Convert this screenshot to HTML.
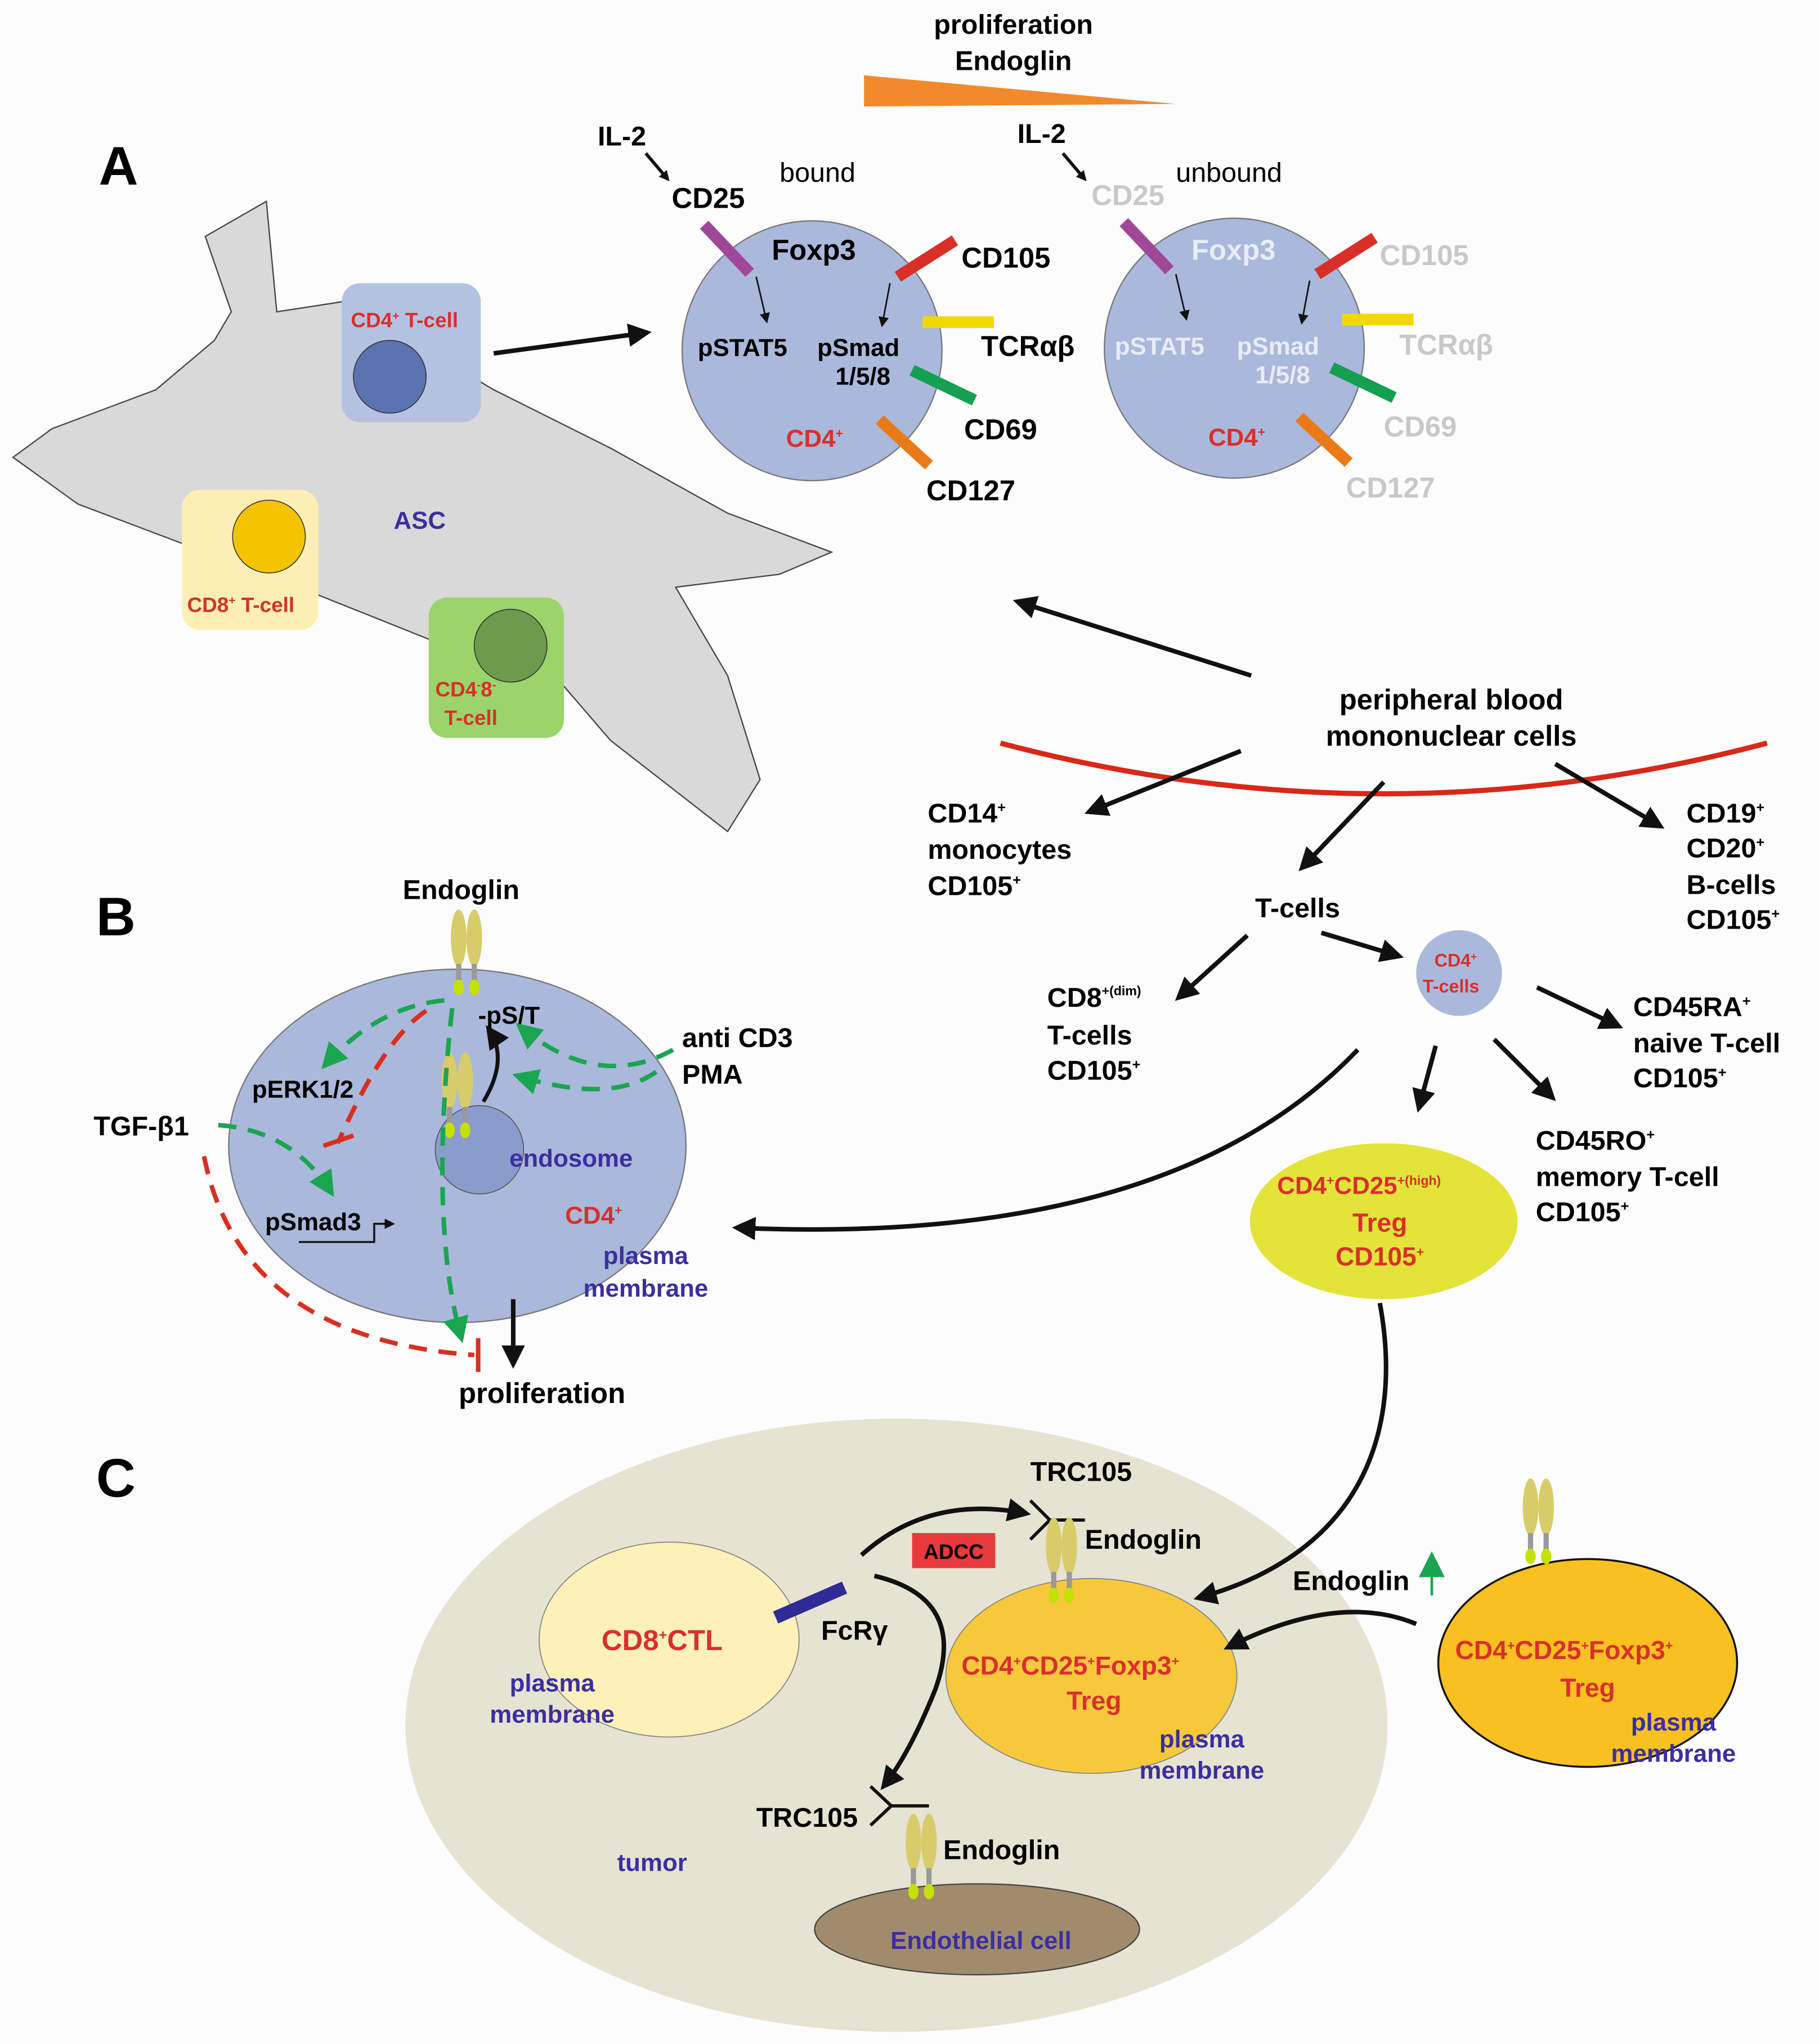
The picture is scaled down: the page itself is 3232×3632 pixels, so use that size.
<!DOCTYPE html>
<html><head><meta charset="utf-8"><style>
html,body{margin:0;padding:0;background:#fcfcfc}
svg{display:block}
text{font-family:"Liberation Sans",sans-serif;font-weight:bold}
</style></head><body>
<svg width="3232" height="3632" viewBox="0 0 1400 1573.3" xmlns="http://www.w3.org/2000/svg">
<defs>
<marker id="ab" markerWidth="8" markerHeight="8" refX="6" refY="4" orient="auto" markerUnits="userSpaceOnUse" viewBox="0 0 8 8"><path d="M0,0 L8,4 L0,8 Z" fill="#111"/></marker>
<marker id="abig" viewBox="0 0 10 10" refX="8" refY="5" markerWidth="18" markerHeight="18" orient="auto" markerUnits="userSpaceOnUse"><path d="M0,0 L10,5 L0,10 Z" fill="#111"/></marker>
<marker id="ag" viewBox="0 0 10 10" refX="8" refY="5" markerWidth="20" markerHeight="20" orient="auto" markerUnits="userSpaceOnUse"><path d="M0,0 L10,5 L0,10 Z" fill="#1aa550"/></marker>
<g id="endo"><ellipse cx="-6" cy="0" rx="6" ry="22" fill="#d8cc6a"/><ellipse cx="6" cy="0" rx="6" ry="22" fill="#d8cc6a"/><rect x="-8" y="20" width="4" height="16" fill="#999"/><rect x="4" y="20" width="4" height="16" fill="#999"/><ellipse cx="-6" cy="38" rx="4" ry="6" fill="#c6e000"/><ellipse cx="6" cy="38" rx="4" ry="6" fill="#c6e000"/></g>
</defs>
<rect width="1400" height="1573.3" fill="#fcfcfc"/>

<!-- Panel A -->
<text x="76" y="142" font-size="42">A</text>
<text x="780" y="26" font-size="21" text-anchor="middle">proliferation</text>
<text x="780" y="54" font-size="21" text-anchor="middle">Endoglin</text>
<polygon points="665,58 665,82 905,80" fill="#f28a2c"/>

<polygon points="158,182 205,155 213,240 265,232 380,300 470,345 560,395 640,425 600,442 520,452 560,520 585,600 560,640 470,570 420,512 330,492 230,452 150,422 60,388 10,352 40,330 120,300 165,262 178,240" fill="#d9d9d9" stroke="#444" stroke-width="1"/>
<rect x="263" y="218" width="107" height="107" rx="14" fill="#b4c2e2"/>
<circle cx="300" cy="290" r="28" fill="#5a72b0" stroke="#333" stroke-width="0.7"/>
<text x="270" y="252" font-size="16" fill="#d8302a">CD4<tspan font-size="9" dy="-6">+</tspan><tspan dy="6"> T-cell</tspan></text>
<rect x="140" y="377" width="105" height="108" rx="14" fill="#fdefb4"/>
<circle cx="207" cy="413" r="28" fill="#f5c400" stroke="#333" stroke-width="0.7"/>
<text x="144" y="471" font-size="16" fill="#d8302a">CD8<tspan font-size="9" dy="-6">+</tspan><tspan dy="6"> T-cell</tspan></text>
<rect x="330" y="460" width="104" height="108" rx="14" fill="#9ad46a"/>
<circle cx="393" cy="497" r="28" fill="#6e9a4e" stroke="#333" stroke-width="0.7"/>
<text x="335" y="536" font-size="16" fill="#d8302a">CD4<tspan font-size="9" dy="-6">-</tspan><tspan dy="6">8</tspan><tspan font-size="9" dy="-6">-</tspan></text>
<text x="342" y="558" font-size="16" fill="#d8302a">T-cell</text>
<text x="303" y="407" font-size="19" fill="#3b2fa0">ASC</text>
<line x1="380" y1="272" x2="498" y2="256" stroke="#111" stroke-width="3.5" marker-end="url(#abig)"/>

<!-- bound cell -->
<circle cx="625" cy="270" r="100" fill="#aab8dc" stroke="#777" stroke-width="1"/>
<text x="460" y="112" font-size="21">IL-2</text>
<line x1="497" y1="118" x2="514" y2="138" stroke="#111" stroke-width="2.5" marker-end="url(#ab)"/>
<text x="517" y="160" font-size="22">CD25</text>
<text x="600" y="140" font-size="21" style="font-weight:normal">bound</text>
<line x1="542" y1="173" x2="577" y2="210" stroke="#a04898" stroke-width="9"/>
<text x="594" y="200" font-size="22">Foxp3</text>
<line x1="691" y1="213" x2="735" y2="185" stroke="#d83028" stroke-width="9"/>
<text x="740" y="206" font-size="22">CD105</text>
<line x1="710" y1="248" x2="765" y2="248" stroke="#f3d800" stroke-width="9"/>
<text x="755" y="274" font-size="22">TCRαβ</text>
<line x1="702" y1="285" x2="750" y2="308" stroke="#14a050" stroke-width="9"/>
<text x="742" y="338" font-size="22">CD69</text>
<line x1="677" y1="323" x2="715" y2="358" stroke="#ea7a18" stroke-width="9"/>
<text x="713" y="385" font-size="22">CD127</text>
<line x1="582" y1="213" x2="590" y2="247" stroke="#111" stroke-width="1.2" marker-end="url(#ab)"/>
<line x1="685" y1="218" x2="679" y2="250" stroke="#111" stroke-width="1.2" marker-end="url(#ab)"/>
<text x="537" y="274" font-size="19">pSTAT5</text>
<text x="629" y="274" font-size="19">pSmad</text>
<text x="643" y="296" font-size="19">1/5/8</text>
<text x="605" y="344" font-size="19" fill="#d8302a">CD4<tspan font-size="10" dy="-7">+</tspan></text>

<!-- unbound cell -->
<circle cx="950" cy="268" r="100" fill="#aab8dc" stroke="#777" stroke-width="1"/>
<text x="783" y="110" font-size="21">IL-2</text>
<line x1="818" y1="118" x2="835" y2="138" stroke="#111" stroke-width="2.5" marker-end="url(#ab)"/>
<text x="840" y="158" font-size="22" fill="#c8c8c8">CD25</text>
<text x="905" y="140" font-size="21" style="font-weight:normal">unbound</text>
<line x1="865" y1="171" x2="900" y2="208" stroke="#a04898" stroke-width="9"/>
<text x="917" y="200" font-size="22" fill="#e8ecf6">Foxp3</text>
<line x1="1014" y1="211" x2="1058" y2="183" stroke="#d83028" stroke-width="9"/>
<text x="1062" y="204" font-size="22" fill="#c8c8c8">CD105</text>
<line x1="1033" y1="246" x2="1088" y2="246" stroke="#f3d800" stroke-width="9"/>
<text x="1077" y="273" font-size="22" fill="#c8c8c8">TCRαβ</text>
<line x1="1025" y1="283" x2="1073" y2="306" stroke="#14a050" stroke-width="9"/>
<text x="1065" y="336" font-size="22" fill="#c8c8c8">CD69</text>
<line x1="1000" y1="321" x2="1038" y2="356" stroke="#ea7a18" stroke-width="9"/>
<text x="1036" y="383" font-size="22" fill="#c8c8c8">CD127</text>
<line x1="905" y1="211" x2="913" y2="245" stroke="#111" stroke-width="1.2" marker-end="url(#ab)"/>
<line x1="1008" y1="216" x2="1002" y2="248" stroke="#111" stroke-width="1.2" marker-end="url(#ab)"/>
<text x="858" y="273" font-size="19" fill="#e8ecf6">pSTAT5</text>
<text x="952" y="273" font-size="19" fill="#e8ecf6">pSmad</text>
<text x="966" y="295" font-size="19" fill="#e8ecf6">1/5/8</text>
<text x="930" y="343" font-size="19" fill="#d8302a">CD4<tspan font-size="10" dy="-7">+</tspan></text>

<!-- PBMC -->
<line x1="963" y1="520" x2="783" y2="463" stroke="#111" stroke-width="3.5" marker-end="url(#abig)"/>
<text x="1117" y="546" font-size="22" text-anchor="middle">peripheral blood</text>
<text x="1117" y="574" font-size="22" text-anchor="middle">mononuclear cells</text>
<path d="M770,572 Q1065,650 1360,572" fill="none" stroke="#d82818" stroke-width="4"/>
<line x1="955" y1="578" x2="838" y2="625" stroke="#111" stroke-width="3.5" marker-end="url(#abig)"/>
<line x1="1065" y1="602" x2="1002" y2="668" stroke="#111" stroke-width="3.5" marker-end="url(#abig)"/>
<line x1="1197" y1="588" x2="1278" y2="636" stroke="#111" stroke-width="3.5" marker-end="url(#abig)"/>
<text x="714" y="633" font-size="21">CD14<tspan font-size="11" dy="-8">+</tspan></text>
<text x="714" y="661" font-size="21">monocytes</text>
<text x="714" y="689" font-size="21">CD105<tspan font-size="11" dy="-8">+</tspan></text>
<text x="1298" y="633" font-size="21">CD19<tspan font-size="11" dy="-8">+</tspan></text>
<text x="1298" y="660" font-size="21">CD20<tspan font-size="11" dy="-8">+</tspan></text>
<text x="1298" y="688" font-size="21">B-cells</text>
<text x="1298" y="715" font-size="21">CD105<tspan font-size="11" dy="-8">+</tspan></text>
<text x="966" y="706" font-size="21">T-cells</text>
<line x1="960" y1="720" x2="907" y2="768" stroke="#111" stroke-width="3.5" marker-end="url(#abig)"/>
<line x1="1017" y1="718" x2="1077" y2="736" stroke="#111" stroke-width="3.5" marker-end="url(#abig)"/>
<text x="806" y="775" font-size="21">CD8<tspan font-size="10" dy="-9">+(dim)</tspan></text>
<text x="806" y="804" font-size="21">T-cells</text>
<text x="806" y="831" font-size="21">CD105<tspan font-size="11" dy="-8">+</tspan></text>
<circle cx="1123" cy="749" r="33" fill="#aab8dc"/>
<text x="1104" y="744" font-size="14" fill="#d8302a">CD4<tspan font-size="8" dy="-5">+</tspan></text>
<text x="1095" y="764" font-size="14" fill="#d8302a">T-cells</text>
<line x1="1183" y1="760" x2="1246" y2="790" stroke="#111" stroke-width="3.5" marker-end="url(#abig)"/>
<line x1="1105" y1="805" x2="1092" y2="853" stroke="#111" stroke-width="3.5" marker-end="url(#abig)"/>
<line x1="1150" y1="800" x2="1195" y2="845" stroke="#111" stroke-width="3.5" marker-end="url(#abig)"/>
<text x="1257" y="782" font-size="21">CD45RA<tspan font-size="11" dy="-8">+</tspan></text>
<text x="1257" y="810" font-size="21">naive T-cell</text>
<text x="1257" y="837" font-size="21">CD105<tspan font-size="11" dy="-8">+</tspan></text>
<text x="1182" y="885" font-size="21">CD45RO<tspan font-size="11" dy="-8">+</tspan></text>
<text x="1182" y="913" font-size="21">memory T-cell</text>
<text x="1182" y="940" font-size="21">CD105<tspan font-size="11" dy="-8">+</tspan></text>
<ellipse cx="1065" cy="940" rx="103" ry="60" fill="#e3e33a"/>
<text x="983" y="919" font-size="19" fill="#d8302a">CD4<tspan font-size="10" dy="-7">+</tspan><tspan dy="7">CD25</tspan><tspan font-size="10" dy="-7">+(high)</tspan></text>
<text x="1062" y="948" font-size="20" fill="#d8302a" text-anchor="middle">Treg</text>
<text x="1062" y="974" font-size="20" fill="#d8302a" text-anchor="middle">CD105<tspan font-size="10" dy="-7">+</tspan></text>
<path d="M1045,808 Q900,960 567,945" fill="none" stroke="#111" stroke-width="3.5" marker-end="url(#abig)"/>

<!-- Panel B -->
<text x="74" y="720" font-size="42">B</text>
<ellipse cx="352" cy="882" rx="176" ry="136" fill="#aab8dc" stroke="#777" stroke-width="1"/>
<circle cx="369" cy="885" r="34" fill="#8a9ccb" stroke="#555" stroke-width="0.7"/>
<text x="310" y="692" font-size="21">Endoglin</text>
<use href="#endo" x="359" y="722"/>
<use href="#endo" x="352" y="832"/>
<text x="368" y="788" font-size="19">-pS/T</text>
<path d="M372,848 Q392,815 376,792" fill="none" stroke="#111" stroke-width="3" marker-end="url(#abig)"/>
<text x="194" y="845" font-size="19">pERK1/2</text>
<text x="72" y="874" font-size="21">TGF-β1</text>
<text x="204" y="947" font-size="19">pSmad3</text>
<polyline points="230,956 288,956 288,942 302,942" fill="none" stroke="#111" stroke-width="1.5" marker-end="url(#ab)"/>
<text x="392" y="898" font-size="19" fill="#3b2fa0">endosome</text>
<text x="435" y="942" font-size="19" fill="#d8302a">CD4<tspan font-size="10" dy="-7">+</tspan></text>
<text x="497" y="973" font-size="19" fill="#3b2fa0" text-anchor="middle">plasma</text>
<text x="497" y="998" font-size="19" fill="#3b2fa0" text-anchor="middle">membrane</text>
<text x="525" y="806" font-size="21">anti CD3</text>
<text x="525" y="834" font-size="21">PMA</text>
<g fill="none" stroke-width="3.5" stroke-dasharray="14,9">
<path d="M342,770 Q290,775 250,820" stroke="#1aa550" marker-end="url(#ag)"/>
<path d="M348,776 Q330,940 355,1030" stroke="#1aa550" marker-end="url(#ag)"/>
<path d="M518,808 Q460,840 400,790" stroke="#1aa550" marker-end="url(#ag)"/>
<path d="M505,825 Q470,850 398,828" stroke="#1aa550" marker-end="url(#ag)"/>
<path d="M168,866 Q225,870 255,918" stroke="#1aa550" marker-end="url(#ag)"/>
<path d="M328,778 Q295,800 260,880" stroke="#d83020"/>
<path d="M157,890 Q185,1030 365,1043" stroke="#d83020"/>
</g>
<line x1="249" y1="882" x2="272" y2="874" stroke="#d83020" stroke-width="3.5"/>
<line x1="368" y1="1030" x2="368" y2="1056" stroke="#d83020" stroke-width="3.5"/>
<line x1="395" y1="1000" x2="395" y2="1050" stroke="#111" stroke-width="3.5" marker-end="url(#abig)"/>
<text x="353" y="1080" font-size="22">proliferation</text>

<!-- Panel C -->
<text x="74" y="1152" font-size="42">C</text>
<ellipse cx="690" cy="1328" rx="378" ry="236" fill="#e7e3d2"/>
<ellipse cx="515" cy="1262" rx="100" ry="75" fill="#fdf0b8" stroke="#888" stroke-width="0.8"/>
<text x="463" y="1270" font-size="22" fill="#d8302a">CD8<tspan font-size="11" dy="-8">+</tspan><tspan dy="8">CTL</tspan></text>
<text x="425" y="1302" font-size="19" fill="#3b2fa0" text-anchor="middle">plasma</text>
<text x="425" y="1326" font-size="19" fill="#3b2fa0" text-anchor="middle">membrane</text>
<line x1="597" y1="1245" x2="650" y2="1222" stroke="#2e2a96" stroke-width="10"/>
<text x="632" y="1262" font-size="21">FcRγ</text>
<path d="M663,1197 Q715,1150 790,1165" fill="none" stroke="#111" stroke-width="3.5" marker-end="url(#abig)"/>
<path d="M673,1213 Q745,1230 720,1300 Q700,1350 680,1375" fill="none" stroke="#111" stroke-width="3.5" marker-end="url(#abig)"/>
<rect x="702" y="1180" width="64" height="27" fill="#e83a3a"/>
<text x="734" y="1200" font-size="16" text-anchor="middle">ADCC</text>
<path d="M793,1155 L808,1170 M793,1185 L808,1170 L835,1170" fill="none" stroke="#111" stroke-width="2.5"/>
<text x="793" y="1140" font-size="21">TRC105</text>
<ellipse cx="840" cy="1290" rx="112" ry="75" fill="#f7c83c" stroke="#888" stroke-width="0.8"/>
<use href="#endo" x="817" y="1190"/>
<text x="835" y="1192" font-size="21">Endoglin</text>
<text x="740" y="1289" font-size="20" fill="#d8302a">CD4<tspan font-size="10" dy="-7">+</tspan><tspan dy="7">CD25</tspan><tspan font-size="10" dy="-7">+</tspan><tspan dy="7">Foxp3</tspan><tspan font-size="10" dy="-7">+</tspan></text>
<text x="842" y="1316" font-size="20" fill="#d8302a" text-anchor="middle">Treg</text>
<text x="925" y="1345" font-size="19" fill="#3b2fa0" text-anchor="middle">plasma</text>
<text x="925" y="1369" font-size="19" fill="#3b2fa0" text-anchor="middle">membrane</text>
<text x="995" y="1224" font-size="21">Endoglin</text>
<line x1="1102" y1="1228" x2="1102" y2="1198" stroke="#1aa550" stroke-width="2" marker-end="url(#ag)"/>
<path d="M1090,1250 Q1030,1225 945,1268" fill="none" stroke="#111" stroke-width="3.5" marker-end="url(#abig)"/>
<ellipse cx="1222" cy="1280" rx="115" ry="80" fill="#f8c020" stroke="#111" stroke-width="1.5"/>
<use href="#endo" x="1184" y="1160"/>
<text x="1120" y="1277" font-size="20" fill="#d8302a">CD4<tspan font-size="10" dy="-7">+</tspan><tspan dy="7">CD25</tspan><tspan font-size="10" dy="-7">+</tspan><tspan dy="7">Foxp3</tspan><tspan font-size="10" dy="-7">+</tspan></text>
<text x="1222" y="1306" font-size="20" fill="#d8302a" text-anchor="middle">Treg</text>
<text x="1288" y="1332" font-size="19" fill="#3b2fa0" text-anchor="middle">plasma</text>
<text x="1288" y="1356" font-size="19" fill="#3b2fa0" text-anchor="middle">membrane</text>
<path d="M670,1375 L686,1390 M670,1405 L686,1390 L715,1390" fill="none" stroke="#111" stroke-width="2.5"/>
<text x="582" y="1406" font-size="21">TRC105</text>
<text x="726" y="1431" font-size="21">Endoglin</text>
<text x="475" y="1440" font-size="19" fill="#3b2fa0">tumor</text>
<ellipse cx="752" cy="1485" rx="125" ry="35" fill="#a08c6c" stroke="#444" stroke-width="1"/>
<use href="#endo" x="709" y="1418"/>
<text x="755" y="1500" font-size="19" fill="#3b2fa0" text-anchor="middle">Endothelial cell</text>
<path d="M1062,1003 C1080,1100 1050,1195 922,1230" fill="none" stroke="#111" stroke-width="3.5" marker-end="url(#abig)"/>
</svg>
</body></html>
